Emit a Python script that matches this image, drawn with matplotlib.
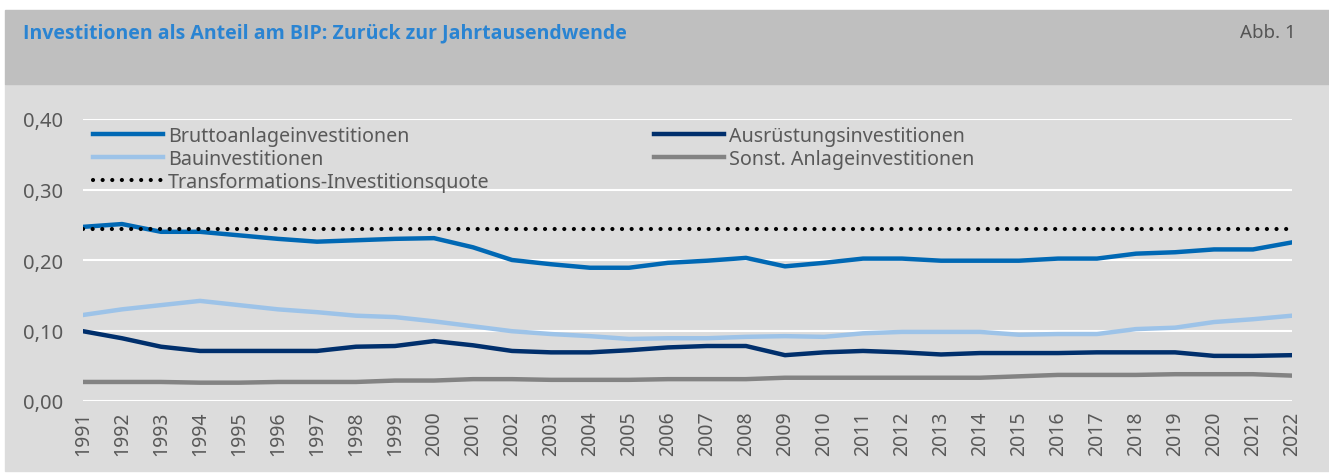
import matplotlib.pyplot as plt
from matplotlib.patches import Rectangle
from matplotlib.lines import Line2D

plt.rcParams['font.family'] = ['Noto Sans', 'DejaVu Sans']

years = list(range(1991, 2023))

brutto = [0.247, 0.251, 0.240, 0.240, 0.235, 0.230, 0.226, 0.228, 0.230, 0.231,
          0.218, 0.200, 0.194, 0.189, 0.189, 0.196, 0.199, 0.203, 0.191, 0.196,
          0.202, 0.202, 0.199, 0.199, 0.199, 0.202, 0.202, 0.209, 0.211, 0.215,
          0.215, 0.225]
bau = [0.122, 0.130, 0.136, 0.142, 0.136, 0.130, 0.126, 0.121, 0.119, 0.113,
       0.106, 0.099, 0.095, 0.092, 0.088, 0.089, 0.089, 0.091, 0.092, 0.091,
       0.096, 0.098, 0.098, 0.098, 0.094, 0.095, 0.095, 0.102, 0.104, 0.112,
       0.116, 0.121]
ausruestung = [0.099, 0.089, 0.077, 0.071, 0.071, 0.071, 0.071, 0.077, 0.078, 0.085,
               0.079, 0.071, 0.069, 0.069, 0.072, 0.076, 0.078, 0.078, 0.065, 0.069,
               0.071, 0.069, 0.066, 0.068, 0.068, 0.068, 0.069, 0.069, 0.069, 0.064,
               0.064, 0.065]
sonstige = [0.027, 0.027, 0.027, 0.026, 0.026, 0.027, 0.027, 0.027, 0.029, 0.029,
            0.031, 0.031, 0.030, 0.030, 0.030, 0.031, 0.031, 0.031, 0.033, 0.033,
            0.033, 0.033, 0.033, 0.033, 0.035, 0.037, 0.037, 0.037, 0.038, 0.038,
            0.038, 0.036]
transformation = [0.244] * len(years)

W, H = 1329, 477
fig = plt.figure(figsize=(W / 100, H / 100), dpi=100)
fig.patch.set_facecolor('white')

# background panels (pixel coords converted to figure fractions)
fig.patches.append(Rectangle((5 / W, 1 - 472 / H), 1 - 5 / W, 387 / H,
                             transform=fig.transFigure, color='#dcdcdc', zorder=-2))
fig.patches.append(Rectangle((5 / W, 1 - 85 / H), 1 - 5 / W, 74 / H,
                             transform=fig.transFigure, color='#bfbfbf', zorder=-2))
fig.text(23 / W, 1 - 33 / H, 'Investitionen als Anteil am BIP: Zurück zur Jahrtausendwende',
         color='#2a84d2', fontsize=14, fontweight='bold', family='Open Sans',
         va='center', ha='left')
fig.text(1296 / W, 1 - 33 / H, 'Abb. 1', color='#555555', fontsize=13.5,
         va='center', ha='right')

ax = fig.add_axes([83 / W, 1 - 402 / H, 1209 / W, 282 / H])
ax.set_facecolor('none')

c_brutto = '#0068b4'
c_bau = '#9dc3e8'
c_ausr = '#002f6c'
c_sonst = '#838383'
lw = 3.2

ax.plot(years, sonstige, color=c_sonst, lw=lw, zorder=3)
ax.plot(years, ausruestung, color=c_ausr, lw=lw, zorder=3)
ax.plot(years, bau, color=c_bau, lw=lw, zorder=3)
ax.plot(years, brutto, color=c_brutto, lw=lw, zorder=3)
ax.plot(years, transformation, color='black', lw=3, linestyle=(0, (0.01, 2.3)),
        dash_capstyle='round', zorder=4)

ax.set_xlim(1991, 2022)
ax.set_ylim(0, 0.40)
ax.set_yticks([0, 0.1, 0.2, 0.3, 0.4])
ax.set_yticklabels(['0,00', '0,10', '0,20', '0,30', '0,40'])
ax.set_xticks(years)
ax.set_xticklabels([str(y) for y in years], rotation=90)
ax.tick_params(axis='y', length=0, labelsize=14.5, labelcolor='#595959', pad=14)
ax.tick_params(axis='x', length=0, labelsize=14, labelcolor='#595959', pad=7)
ax.set_xticks(years[::2], minor=True)
ax.tick_params(axis='x', which='minor', length=6, width=1.5, color='white')
ax.grid(axis='y', color='white', lw=1.5, zorder=1)
for s in ax.spines.values():
    s.set_visible(False)

h1 = [Line2D([], [], color=c_brutto, lw=lw), Line2D([], [], color=c_bau, lw=lw),
      Line2D([], [], color='black', lw=3, linestyle=(0, (0.01, 2.3)), dash_capstyle='round')]
l1 = ['Bruttoanlageinvestitionen', 'Bauinvestitionen', 'Transformations-Investitionsquote']
h2 = [Line2D([], [], color=c_ausr, lw=lw), Line2D([], [], color=c_sonst, lw=lw)]
l2 = ['Ausrüstungsinvestitionen', 'Sonst. Anlageinvestitionen']

leg_kw = dict(frameon=False, fontsize=14.2, labelcolor='#595959', handlelength=3.55,
              handletextpad=0.25, labelspacing=0.14, borderpad=0, borderaxespad=0)
leg1 = ax.legend(h1, l1, loc='upper left', bbox_to_anchor=(10 / 1209, 1 - 7 / 282), **leg_kw)
ax.add_artist(leg1)
ax.legend(h2, l2, loc='upper left', bbox_to_anchor=(571 / 1209, 1 - 7 / 282), **leg_kw)

fig.savefig('out.png', dpi=100)
